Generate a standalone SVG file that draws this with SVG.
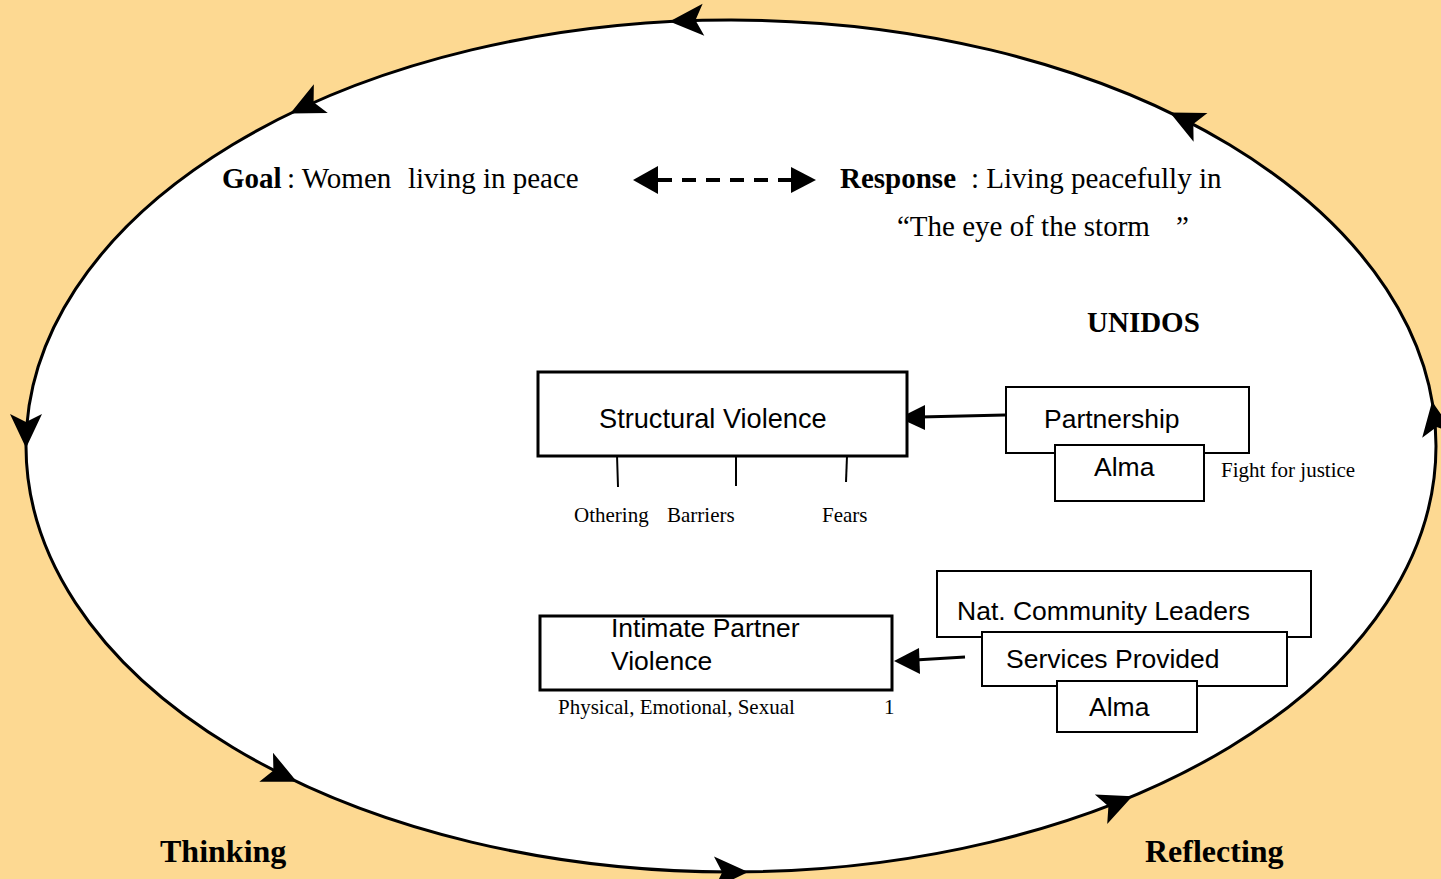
<svg xmlns="http://www.w3.org/2000/svg" xmlns:xlink="http://www.w3.org/1999/xlink" width="1441" height="879" viewBox="0 0 1441 879">
<defs>
<style>
.serif{font-family:"Liberation Serif","Times New Roman",serif;fill:#000}
.sans{font-family:"Liberation Sans",Arial,sans-serif;fill:#000;font-size:26.5px}
.b{font-weight:bold}
.big{font-size:29px}
.small{font-size:21px}
.box{fill:#fff;stroke:#000;stroke-width:2}
.boxt{fill:#fff;stroke:#000;stroke-width:3}
.ln{stroke:#000;stroke-width:3;fill:none}
</style>
<path id="ah" d="M0,0 L-34,-16 L-26,0 L-34,16 Z" fill="#000"/>
</defs>
<rect x="0" y="0" width="1441" height="879" fill="#FDD992"/>
<g id="cycle">
<ellipse cx="731" cy="446" rx="705" ry="426" fill="#fff" stroke="#000" stroke-width="3"/>
<use xlink:href="#ah" transform="translate(669.5,21.6) rotate(177)"/>
<use xlink:href="#ah" transform="translate(290.2,113.5) rotate(154.2)"/>
<use xlink:href="#ah" transform="translate(26,448) rotate(90)"/>
<use xlink:href="#ah" transform="translate(296.9,781.7) rotate(25.3)"/>
<use xlink:href="#ah" transform="translate(748.2,871.9) rotate(-0.85)"/>
<use xlink:href="#ah" transform="translate(1132.4,796.2) rotate(-22.7)"/>
<use xlink:href="#ah" transform="translate(1432.1,401.5) rotate(-99.9)"/>
<use xlink:href="#ah" transform="translate(1169.9,112.6) rotate(-154.3)"/>
</g>
<g id="goal">
<text class="serif b big" x="222" y="188">Goal</text>
<text class="serif big" x="287" y="188">: Women</text>
<text class="serif big" x="408" y="188">living in peace</text>
</g>
<g id="response">
<text class="serif b big" x="840" y="188">Response</text>
<text class="serif big" x="971" y="188">: Living peacefully in</text>
<text class="serif big" x="897" y="236">“The eye of the storm</text>
<text class="serif big" x="1176" y="236">”</text>
</g>
<g id="unidos"><text class="serif b big" x="1087" y="332">UNIDOS</text></g>
<g id="connectors">
<line x1="658" y1="180" x2="792" y2="180" stroke="#000" stroke-width="4" stroke-dasharray="14,10"/>
<path d="M633,180 L658,166 L658,194 Z" fill="#000"/>
<path d="M816,180 L791,167 L791,193 Z" fill="#000"/>
<line x1="1005" y1="415" x2="920" y2="417" class="ln"/>
<path d="M899,418 L925,405 L925,430 Z" fill="#000"/>
<line x1="965" y1="657" x2="915" y2="660" class="ln"/>
<path d="M894,661 L919,648 L920,674 Z" fill="#000"/>
<line x1="617" y1="455" x2="618" y2="487" stroke="#000" stroke-width="2"/>
<line x1="736" y1="456" x2="736" y2="486" stroke="#000" stroke-width="2"/>
<line x1="847" y1="456" x2="846" y2="482" stroke="#000" stroke-width="2"/>
</g>
<g id="structural">
<rect class="boxt" x="538" y="372" width="369" height="84"/>
<text class="sans" x="599" y="428" style="font-size:27.2px">Structural Violence</text>
</g>
<g id="sv-labels">
<text class="serif small" x="574" y="522">Othering</text>
<text class="serif small" x="667" y="522">Barriers</text>
<text class="serif small" x="822" y="522">Fears</text>
</g>
<g id="partnership">
<rect class="box" x="1006" y="387" width="243" height="66"/>
<text class="sans" x="1044" y="428">Partnership</text>
</g>
<g id="alma1">
<rect class="box" x="1055" y="445" width="149" height="56"/>
<text class="sans" x="1094" y="476">Alma</text>
</g>
<g id="fight"><text class="serif small" x="1221" y="477">Fight for justice</text></g>
<g id="ncl">
<rect class="box" x="937" y="571" width="374" height="66"/>
<text class="sans" x="957" y="620">Nat. Community Leaders</text>
</g>
<g id="services">
<rect class="box" x="982" y="632" width="305" height="54"/>
<text class="sans" x="1006" y="668">Services Provided</text>
</g>
<g id="alma2">
<rect class="box" x="1057" y="681" width="140" height="51"/>
<text class="sans" x="1089" y="716">Alma</text>
</g>
<g id="ipv">
<rect class="boxt" x="540" y="616" width="352" height="74"/>
<text class="sans" x="611" y="637">Intimate Partner</text>
<text class="sans" x="611" y="670">Violence</text>
</g>
<g id="ipv-labels">
<text class="serif small" x="558" y="714">Physical, Emotional, Sexual</text>
<text class="serif small" x="884" y="714">1</text>
</g>
<g id="stages">
<text class="serif b" font-size="32" x="160" y="862">Thinking</text>
<text class="serif b" font-size="32" x="1145" y="862">Reflecting</text>
</g>
</svg>
